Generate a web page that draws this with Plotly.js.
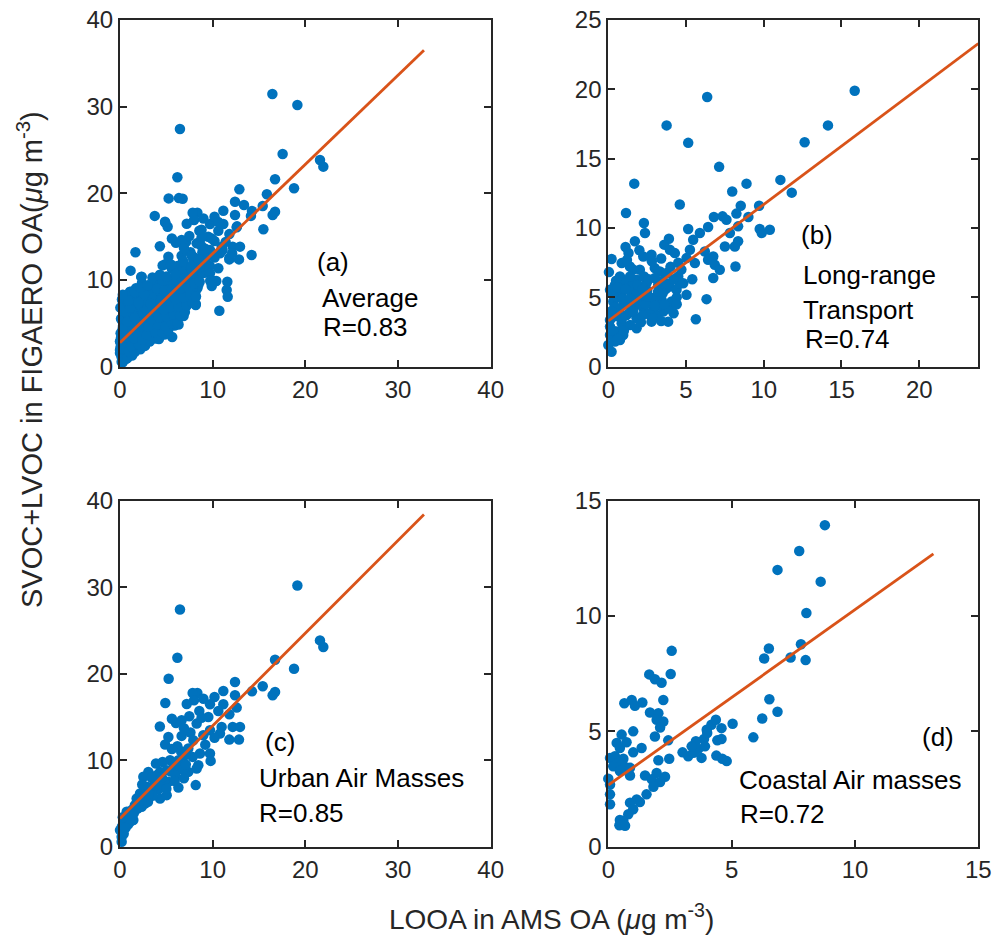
<!DOCTYPE html>
<html><head><meta charset="utf-8">
<script src="https://cdn.plot.ly/plotly-3.0.1.min.js"></script>
<style>html,body{margin:0;padding:0;background:#fff}</style>
</head><body><div id="chart" style="width:997px;height:945px"></div>
<script>
// ---- Data (LOOA in AMS OA, SVOC+LVOC in FIGAERO OA), ug m-3 ----
const longRangePoints = [
[15.85,19.9],[6.36,19.45],[3.75,17.4],[14.13,17.4],[5.14,16.14],[12.63,16.19],[7.13,14.41],[1.67,13.2],[8.89,13.2],[11.07,13.47],
[7.97,12.63],[11.8,12.55],[4.6,11.69],[1.14,11.08],[8.52,11.61],[9.7,11.61],[2.29,10.36],[2.36,9.64],[1.71,9.04],[1.11,8.63],
[3.9,9.23],[5.14,9.93],[6.42,10.07],[6.79,10.8],[7.35,10.84],[8.24,11.04],[9.01,10.8],[8.35,10.12],[9.74,9.93],[10.39,9.88],
[9.87,9.64],[7.6,10.6],[7.82,9.64],[7.5,8.67],[8.14,8.67],[8.35,9.04],[5.89,9.64],[5.46,9.16],[5.25,8.43],[6.21,8.31],
[6.75,7.95],[6.42,7.71],[6.85,7.35],[7.17,6.99],[6.75,6.39],[8.18,7.23],[5.57,7.47],[5.03,7.83],[6.32,4.87],[5.63,3.42],
[5.03,5.18],[4.82,6.02],[4.28,8.19],[3.96,8.43],[2.78,8.07],[2.25,7.95],[0.21,7.76],[0.04,6.82],[0.86,7.47],[1.39,7.23],
[2.03,6.99],[2.99,7.11],[3.32,6.87],[3.75,6.75],[4.5,6.51],[0.75,6.51],[0.43,5.9],[1.18,6.14],[1.82,6.27],[2.46,6.02],
[3.21,5.9],[3.96,5.78],[4.39,5.54],[0.11,5.54],[0.86,5.3],[1.5,5.18],[2.14,5.06],[2.78,4.94],[3.43,4.82],[4.07,4.7],
[0.32,4.7],[0.96,4.46],[1.61,4.34],[2.25,4.22],[2.89,4.1],[3.53,3.98],[4.2,3.86],[0.54,3.98],[1.18,3.73],[1.82,3.49],
[2.78,3.25],[3.85,3.25],[0.11,3.37],[0.86,3.13],[1.82,2.77],[0.11,2.89],[0.54,2.53],[0.96,2.29],[0.11,2.29],[0.0,1.57],
[0.21,1.08],[0.43,1.81],[0.75,1.93],[1.0,6.0],[1.5,5.8],[2.5,5.5],[3.0,5.0],[3.5,6.2],[2.0,4.8],[1.2,4.5],
[2.7,4.6],[3.3,4.4],[0.6,5.0],[1.8,5.3],[2.3,6.5],[3.7,5.6],[4.6,6.0],[4.0,7.2],[1.6,7.0],[0.5,6.2],
[2.8,7.6],[3.4,7.8],[1.3,8.2],[2.6,3.8],[3.1,3.6],[1.4,3.0],[0.3,3.6],[4.4,5.0],[3.9,4.2],[0.7,4.2],
[2.1,3.2],[1.0,2.6],[4.7,7.0],[0.3,5.2],[0.6,5.7],[1.1,5.6],[1.4,6.5],[1.9,5.9],[2.2,5.6],[2.6,6.3],
[3.0,6.4],[3.5,5.3],[3.8,6.0],[4.2,6.3],[0.4,4.3],[0.9,4.9],[1.4,4.9],[1.9,4.5],[2.4,4.5],[3.0,4.4],
[3.6,4.5],[4.4,4.5],[0.7,3.6],[1.4,3.9],[2.2,3.7],[2.9,3.5],[3.4,3.3],[0.2,4.0],[1.6,4.0],[2.5,5.1],
[3.2,5.4],[1.2,7.7],[2.0,8.4],[3.6,8.8],[4.5,7.5],[5.4,6.3],[0.9,3.5],[0.3,2.6],[0.6,2.0]
];
const urbanPoints = [
[19.14,30.19],[6.47,27.42],[6.19,21.85],[5.25,19.42],[21.58,23.85],[21.94,23.08],[18.78,20.58],[16.73,21.62],[15.4,18.54],[16.47,17.5],
[16.73,17.88],[14.24,17.96],[12.41,19.04],[11.15,18.0],[12.41,17.5],[12.59,16.08],[8.35,17.77],[7.84,17.77],[7.99,16.92],[4.89,16.62],
[9.71,16.46],[11.15,16.46],[10.61,15.69],[8.56,15.69],[7.48,15.08],[6.65,14.62],[6.04,14.31],[8.27,14.23],[9.53,15.0],[10.97,13.85],
[12.16,13.85],[12.95,13.85],[11.8,12.38],[12.84,12.38],[10.79,13.08],[9.71,13.46],[8.99,12.88],[6.65,12.81],[5.22,12.69],[4.87,11.81],
[6.19,11.62],[7.91,12.31],[7.37,11.35],[8.63,10.77],[9.71,10.77],[9.78,9.92],[8.45,9.42],[7.84,10.38],[7.01,10.58],[6.3,10.0],
[5.4,10.0],[3.88,9.62],[3.06,8.65],[2.52,8.08],[4.32,8.65],[5.04,8.85],[6.3,9.23],[7.37,8.65],[8.27,9.04],[8.17,7.12],
[6.3,6.85],[5.22,7.5],[4.68,7.69],[3.96,7.31],[3.42,6.54],[2.16,6.15],[1.8,5.58],[3.02,5.19],[4.32,5.58],[5.04,5.96],
[2.34,4.62],[1.26,4.23],[0.72,3.65],[1.44,3.08],[0.36,2.69],[0.0,1.92],[0.18,1.15],[0.18,0.58],[0.72,4.04],[2.88,6.92],
[3.78,8.08],[1.0,3.5],[1.6,4.8],[2.0,5.2],[2.6,5.9],[3.2,6.8],[3.6,7.8],[4.0,8.3],[4.5,8.0],[5.5,8.7],
[6.0,8.2],[6.8,8.9],[4.1,6.6],[2.9,5.6],[1.5,3.9],[0.5,3.1],[0.2,2.3],[0.4,1.5],[0.9,2.6],[5.8,9.6],
[7.1,9.5],[4.6,9.8],[3.4,8.0],[2.4,7.2],[6.6,11.0],[5.6,11.3],[7.6,13.2],[6.9,13.7],[9.2,11.8],[10.2,12.6],
[8.8,14.9],[5.6,14.8],[4.3,13.9],[7.2,16.5],[9.0,17.1],[10.2,17.3],[11.8,15.3],[1.1,2.9],[1.9,4.4],[2.7,5.0],
[3.5,5.9],[4.4,6.9],[5.0,6.7],[5.9,7.6],[6.9,7.9],[2.3,5.4],[3.1,6.1],[1.3,3.6],[0.6,2.2],[0.3,3.4]
];
const coastalPoints = [
[8.78,13.94],[7.74,12.82],[6.86,12.0],[8.61,11.49],[8.03,10.13],[2.57,8.49],[6.51,8.59],[6.32,8.16],[7.39,8.2],[7.81,8.78],
[8.0,8.09],[1.66,7.47],[1.89,7.26],[2.16,7.11],[2.53,7.49],[2.23,6.36],[0.65,6.22],[0.95,6.36],[1.08,6.11],[1.38,6.25],
[6.53,6.39],[6.86,5.85],[6.24,5.56],[5.88,4.74],[1.69,5.82],[2.03,5.79],[1.96,5.5],[2.23,5.43],[2.1,5.17],[1.01,5.0],
[0.54,4.86],[1.89,4.78],[2.43,4.61],[0.34,4.5],[0.74,4.53],[0.47,4.28],[1.35,4.28],[1.01,4.09],[0.07,3.85],[0.27,3.92],
[0.61,3.81],[0.41,3.64],[0.2,3.49],[0.68,3.46],[0.88,3.42],[0.47,3.28],[2.03,3.75],[2.47,3.81],[0.88,3.09],[1.49,3.09],
[1.96,3.2],[2.3,3.03],[1.76,2.92],[2.1,2.8],[1.83,2.6],[0.0,2.95],[0.07,2.7],[0.07,2.27],[0.07,1.84],[1.55,2.27],
[1.15,2.05],[1.28,1.94],[0.88,1.91],[1.01,1.62],[0.81,1.41],[0.47,1.16],[0.61,1.12],[0.45,0.93],[0.68,0.91],[3.01,4.09],
[3.24,3.92],[3.45,4.07],[3.55,4.57],[3.78,3.85],[3.65,4.24],[3.88,4.67],[3.99,5.07],[4.01,4.93],[4.18,5.29],[4.36,5.5],
[4.42,4.61],[4.59,4.67],[4.59,5.14],[4.38,3.95],[4.62,3.81],[4.8,3.71],[5.04,5.33],[3.92,4.35],[3.38,4.35]
];
// points seen only in the "Average" panel (it also contains all of the three groups above)
const averageOnlyPoints = [
[16.44,31.46],[17.55,24.54],[12.88,20.46],[13.38,18.65],[14.2,12.88],[11.58,9.81],[11.51,8.85],[11.62,8.08],[10.72,6.46],[10.61,11.35],
[10.2,9.9],[9.9,9.3],[1.08,8.65],[2.34,10.38],[4.86,16.73],[6.76,19.38],[15.47,15.85],[10.2,14.5],[9.3,12.5],
[0.3,0.5],[0.8,1.0],[1.3,1.3],[0.2,2.1],[0.9,1.8],[1.6,1.7],[2.2,2.0],[0.4,2.8],[1.2,2.4],[2.0,2.6],
[2.7,2.4],[3.2,2.9],[0.6,3.4],[1.5,3.3],[2.4,3.1],[3.6,3.3],[4.2,3.2],[0.3,4.4],[1.9,4.0],[2.9,3.7],
[3.8,4.0],[4.6,3.9],[5.2,4.2],[0.8,5.2],[1.6,5.6],[2.3,4.7],[3.1,4.6],[4.0,4.9],[4.9,4.7],[5.6,5.0],
[6.2,5.1],[0.4,6.4],[1.1,6.8],[2.5,6.2],[3.4,5.5],[4.2,5.7],[5.0,5.8],[5.8,6.0],[6.5,5.9],[7.0,6.3],
[0.9,7.6],[2.0,7.4],[2.9,6.6],[3.8,6.4],[4.7,6.6],[5.5,6.9],[6.3,7.0],[7.2,7.1],[7.8,7.4],[0.3,8.3],
[1.6,8.6],[2.6,8.4],[3.3,7.3],[4.4,7.6],[5.1,7.7],[6.0,7.8],[6.9,8.0],[7.6,8.3],[8.2,8.1],[2.2,9.1],
[3.0,9.4],[4.0,9.0],[4.8,8.8],[5.6,8.9],[6.5,9.0],[7.4,9.2],[8.0,9.6],[3.5,10.3],[4.3,10.6],[5.0,10.4],
[6.0,10.7],[7.0,10.2],[7.8,10.8],[8.6,9.8],[5.5,11.8],[6.8,12.2],[7.7,11.6],[8.5,12.4],[9.2,13.6],[9.9,14.8],
[8.8,15.8],[10.6,16.7],[11.4,14.4],[12.1,13.1]
];
const averagePoints = [].concat(longRangePoints, urbanPoints, coastalPoints, averageOnlyPoints);

// linear fit end points for each panel
const fitA_x = [0, 32.8],  fitA_y = [2.77, 36.5];
const fitB_x = [0, 23.8],  fitB_y = [3.3, 23.3];
const fitC_x = [0, 32.8],  fitC_y = [3.27, 38.4];
const fitD_x = [0, 13.18], fitD_y = [2.67, 12.69];

const panelLabels = ['(a)','(b)','(c)','(d)'];
const panelNames = [['Average'],['Long-range','Transport'],['Urban Air Masses'],['Coastal Air masses']];
const panelR = ['R=0.83','R=0.74','R=0.85','R=0.72'];

// ---- Layout helpers ----
const W = 997, H = 945;
const px = v => v / W, py = v => 1 - v / H;
const BLUE = '#0072BD', ORANGE = '#D95319', AX = '#262626';
const FONT = 'Liberation Sans, Arial, Helvetica, sans-serif';

function scatter(pts, xa, ya) {
  return {type:'scatter', mode:'markers', x: pts.map(p=>p[0]), y: pts.map(p=>p[1]),
    xaxis: xa, yaxis: ya, cliponaxis:false,
    marker:{color:BLUE, size:10.5, line:{width:0}}, hoverinfo:'x+y'};
}
function fit(xs, ys, xa, ya) {
  return {type:'scatter', mode:'lines', x: xs, y: ys, xaxis: xa, yaxis: ya,
    line:{color:ORANGE, width:2.8}, hoverinfo:'skip'};
}
const data = [
  scatter(averagePoints,'x','y'),   fit(fitA_x, fitA_y,'x','y'),
  scatter(longRangePoints,'x2','y2'), fit(fitB_x, fitB_y,'x2','y2'),
  scatter(urbanPoints,'x3','y3'),   fit(fitC_x, fitC_y,'x3','y3'),
  scatter(coastalPoints,'x4','y4'), fit(fitD_x, fitD_y,'x4','y4')
];

function axis(dom, range, dtick, anchor) {
  return {domain: dom, range: range, dtick: dtick, tick0: 0, anchor: anchor,
    showline:true, linecolor:AX, linewidth:2, mirror:'ticks',
    ticks:'inside', ticklen:7, tickwidth:2, tickcolor:AX,
    showgrid:false, zeroline:false,
    tickfont:{family:FONT, size:24, color:AX}};
}
const XL = [px(120), px(490.7)], XR = [px(608.3), px(978.3)];
const YT = [py(366.7), py(20)], YB = [py(846.7), py(500.7)];

const ann = [];
function txt(t, x, y, size) {
  ann.push({text:t, xref:'paper', yref:'paper', x:px(x), y:py(y), xanchor:'left', yanchor:'middle',
    showarrow:false, font:{family:FONT, size:size||26, color:'#000'}});
}
// panel a
txt(panelLabels[0], 315, 261.7); txt(panelNames[0][0], 320, 297.7); txt(panelR[0], 320.7, 326.7);
// panel b
txt(panelLabels[1], 799.3, 235); txt(panelNames[1][0], 800.7, 275); txt(panelNames[1][1], 800.7, 310); txt(panelR[1], 803.3, 339.3);
// panel c
txt(panelLabels[2], 262.7, 741.7); txt(panelNames[2][0], 256.7, 777.7); txt(panelR[2], 257.3, 813.3);
// panel d
txt(panelLabels[3], 920, 737.3); txt(panelNames[3][0], 736.7, 780); txt(panelR[3], 738.3, 814);
// axis titles
ann.push({text:'LOOA in AMS OA (<i>μ</i>g m<sup>-3</sup>)', xref:'paper', yref:'paper', x:px(551), y:py(917),
  xanchor:'center', yanchor:'middle', showarrow:false, font:{family:FONT, size:28, color:AX}});
ann.push({text:'SVOC+LVOC in FIGAERO OA(<i>μ</i>g m<sup>-3</sup>)', xref:'paper', yref:'paper', x:px(30), y:py(360),
  xanchor:'center', yanchor:'middle', textangle:-90, showarrow:false, font:{family:FONT, size:29, color:AX}});

const layout = {
  width: W, height: H, margin:{l:0, r:0, t:0, b:0},
  paper_bgcolor:'#fff', plot_bgcolor:'#fff', showlegend:false,
  xaxis:  axis(XL, [0,40], 10, 'y'),
  yaxis:  axis(YT, [0,40], 10, 'x'),
  xaxis2: axis(XR, [0,23.8], 5, 'y2'),
  yaxis2: axis(YT, [0,25], 5, 'x2'),
  xaxis3: axis(XL, [0,40], 10, 'y3'),
  yaxis3: axis(YB, [0,40], 10, 'x3'),
  xaxis4: axis(XR, [0,15], 5, 'y4'),
  yaxis4: axis(YB, [0,15], 5, 'x4'),
  annotations: ann
};
Plotly.newPlot('chart', data, layout, {displayModeBar:false, staticPlot:true});
</script></body></html>
